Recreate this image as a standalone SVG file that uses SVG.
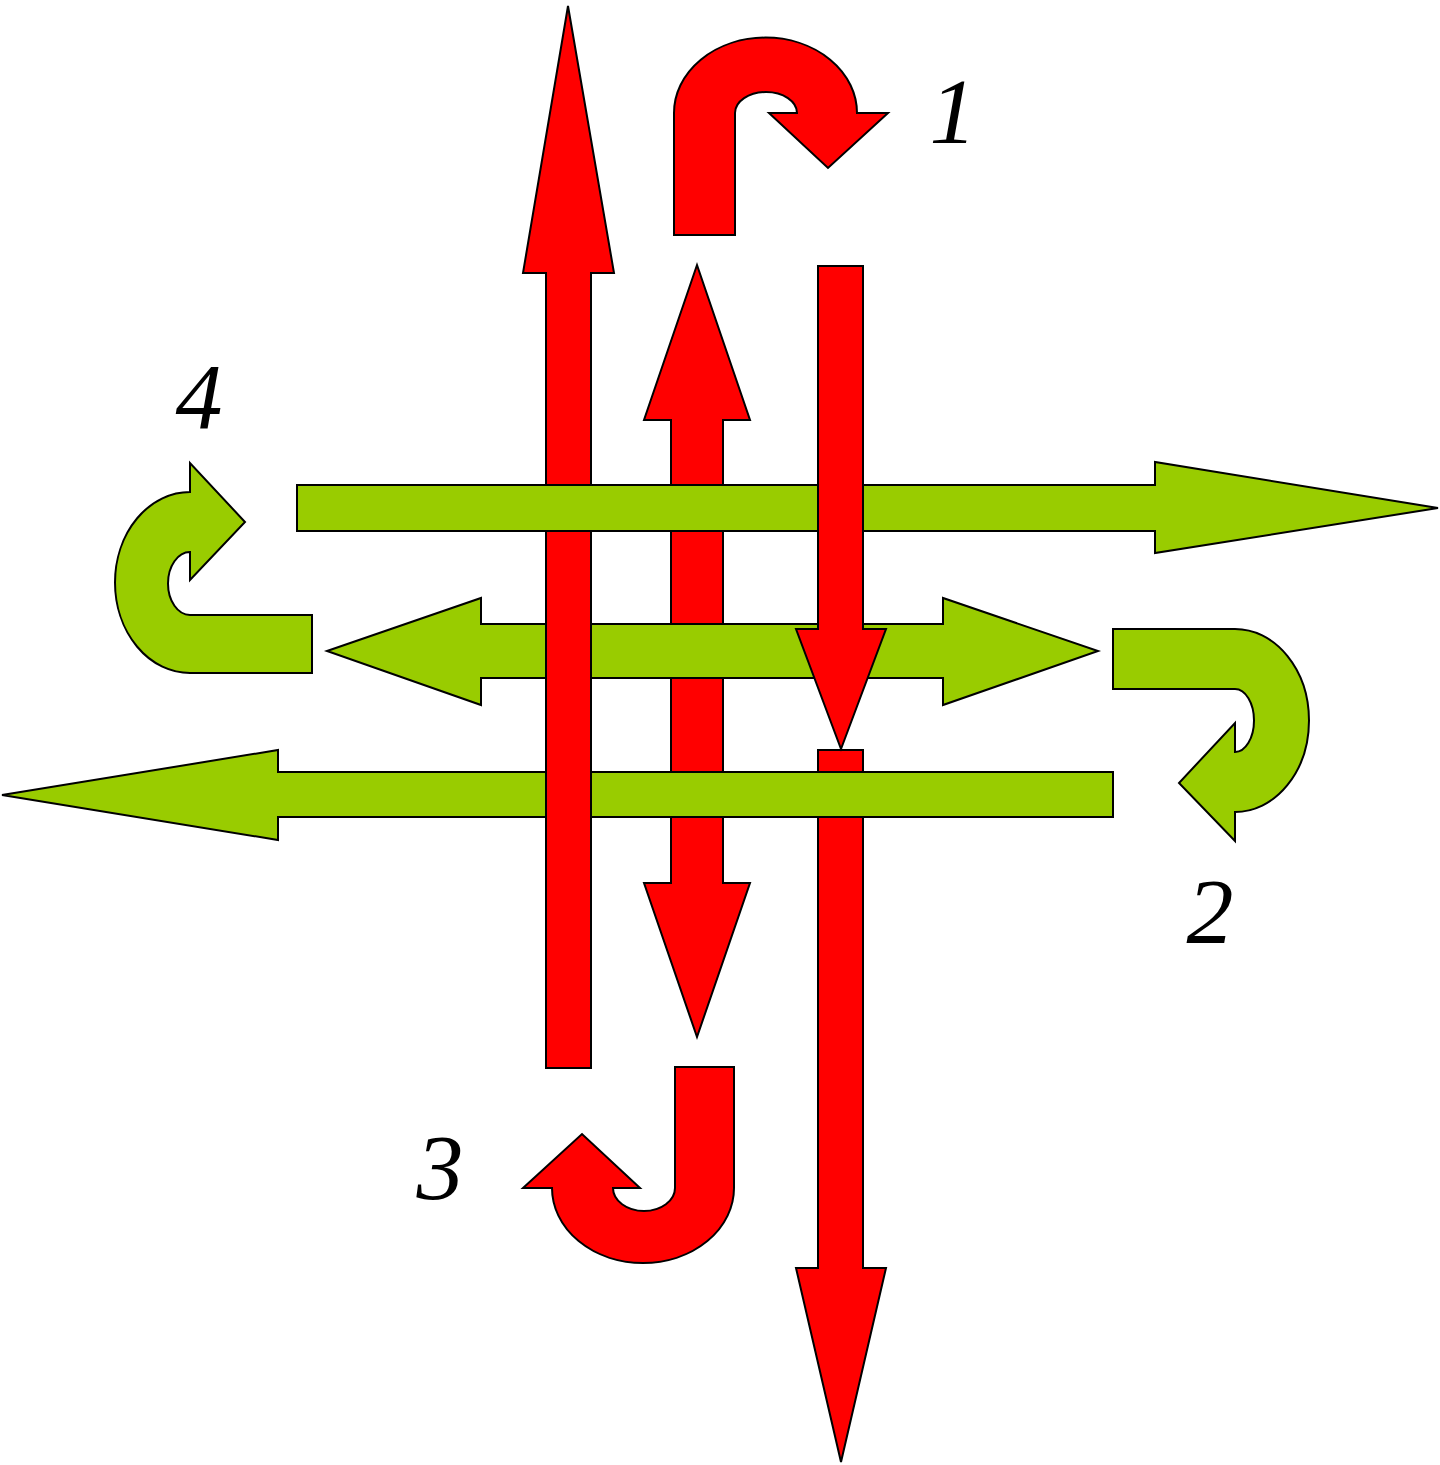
<svg xmlns="http://www.w3.org/2000/svg" width="1440" height="1465" viewBox="0 0 1440 1465">
<style>
.r{fill:#FF0000;stroke:#000;stroke-width:2;stroke-linejoin:miter}
.g{fill:#99CC00;stroke:#000;stroke-width:2;stroke-linejoin:miter}
.lbl{font-family:"Liberation Serif","DejaVu Serif",serif;font-style:italic;font-size:94px;fill:#000;text-anchor:middle}
</style>
<rect width="1440" height="1465" fill="#fff"/>
<g id="arrows">
<g id="red-double"><path class="r" d="M697,265 L750,420 L723,420 L723,883 L750,883 L697,1037 L644,883 L671,883 L671,420 L644,420 Z"/></g>
<g id="red-down-lower"><path class="r" d="M818,750 L863,750 L863,1268 L886,1268 L841,1462 L796,1268 L818,1268 Z"/></g>
<g id="green-double"><path class="g" d="M327,651 L481,598 L481,624 L943,624 L943,598 L1098,651 L943,705 L943,678 L481,678 L481,705 Z"/></g>
<g id="green-left"><path class="g" d="M2,795 L278,750 L278,772 L1113,772 L1113,817 L278,817 L278,840 Z"/></g>
<g id="red-up"><path class="r" d="M568,6 L614,273 L591,273 L591,1068 L546,1068 L546,273 L523,273 Z"/></g>
<g id="green-right"><path class="g" d="M297,485 L1155,485 L1155,462 L1438,508 L1155,553 L1155,531 L297,531 Z"/></g>
<g id="red-down-upper"><path class="r" d="M818,266 L863,266 L863,629 L886,629 L841,749 L796,629 L818,629 Z"/></g>
<g id="uturn-1"><path class="r" d="M674,235 L674,113 A91,75 0 0 1 857,113 L888,113 L828,168 L769,113 L797,113 A31,21 0 0 0 735,113 L735,235 Z"/></g>
<g id="uturn-4"><path class="g" d="M312,615 L312,673 L190,673 A75,90.5 0 0 1 190,492 L190,463 L245,522 L190,580 L190,552 A22,31.5 0 0 0 190,615 Z"/></g>
<g id="uturn-2"><path class="g" d="M1113,629 L1235,629 A74,91.5 0 0 1 1235,812 L1235,841 L1179,783 L1235,723 L1235,752 A19,31.5 0 0 0 1235,689 L1113,689 Z"/></g>
<g id="uturn-3"><path class="r" d="M734,1067 L734,1188 A91,75 0 0 1 552,1188 L523,1188 L582,1134 L640,1188 L613,1188 A31,23 0 0 0 675,1188 L675,1067 Z"/></g>
</g>
<g id="labels">
<text class="lbl" x="953" y="143">1</text>
<text class="lbl" x="1210" y="943">2</text>
<text class="lbl" x="440" y="1199">3</text>
<text class="lbl" x="199" y="428">4</text>
</g>
</svg>
